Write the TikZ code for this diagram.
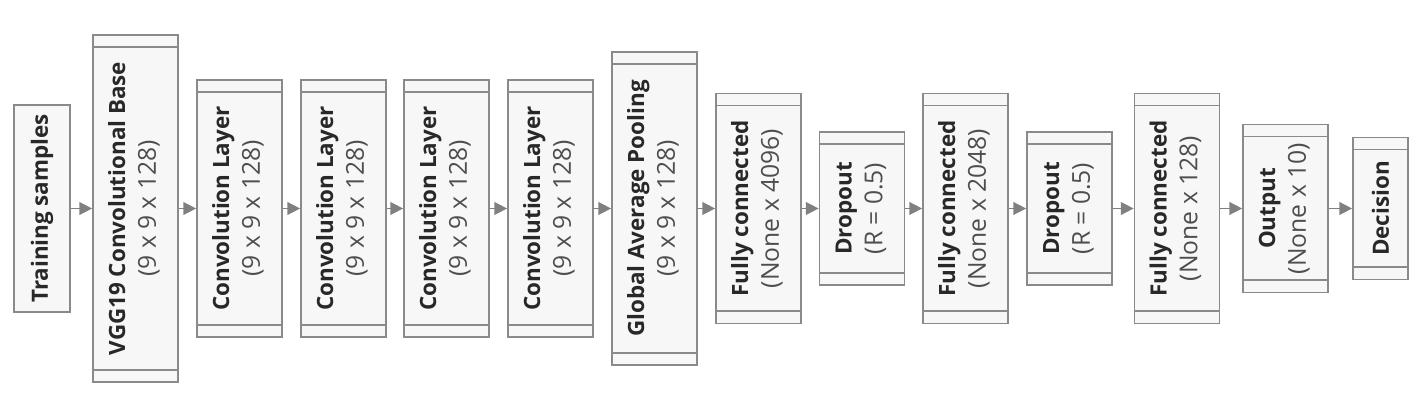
\documentclass[tikz,border=0pt]{standalone}
\usepackage{fontspec}
\setmainfont{Open Sans}
\usetikzlibrary{arrows.meta, calc}
\definecolor{boxline}{RGB}{138,138,138}
\definecolor{boxfill}{RGB}{247,247,247}
\definecolor{flowgray}{RGB}{128,128,128}
\definecolor{titlegray}{RGB}{40,40,40}
\definecolor{subgray}{RGB}{78,78,78}
\newcommand{\layertext}[2]{\rotatebox{90}{\begin{tabular}{@{}c@{}}\textbf{#1}\\[4pt]{\color{subgray}\fontsize{18.5}{19}\selectfont #2}\end{tabular}}}
\newcommand{\layerone}[1]{\rotatebox{90}{\textbf{#1}}}
\tikzset{
  layer/.style={draw=boxline, fill=boxfill, line width=1.3pt, inner sep=0pt,
    minimum width=63.75pt, text=titlegray, font=\fontsize{16.8}{19}\selectfont},
  band/.style={draw=boxline, line width=1.3pt},
  flow/.style={draw=flowgray, line width=1.1pt, -{Triangle[length=9.5pt,width=9.5pt]}}
}
\begin{document}
\begin{tikzpicture}[x=0.75pt,y=0.75pt]
        \useasboundingbox (0,0) rectangle (1426,410);

        % Layers
        \node [layer, minimum width=42pt, minimum height=155.25pt] (train) at (42,201.5) {\layerone{Training samples}};
        \node [layer, minimum height=260.25pt] (vgg) at (135.5,201.5) {\layertext{VGG19 Convolutional Base}{(9 x 9 x 128)}};
        \node [layer, minimum height=192.75pt] (conv1) at (239.5,201.5) {\layertext{Convolution Layer}{(9 x 9 x 128)}};
        \node [layer, minimum height=192.75pt] (conv2) at (343.5,201.5) {\layertext{Convolution Layer}{(9 x 9 x 128)}};
        \node [layer, minimum height=192.75pt] (conv3) at (446.5,201.5) {\layertext{Convolution Layer}{(9 x 9 x 128)}};
        \node [layer, minimum height=192.75pt] (conv4) at (550.5,201.5) {\layertext{Convolution Layer}{(9 x 9 x 128)}};
        \node [layer, minimum height=234.75pt] (gap) at (654.5,201.5) {\layertext{Global Average Pooling}{(9 x 9 x 128)}};
        \node [layer, minimum height=172.5pt] (fc1) at (758.5,201.5) {\layertext{Fully connected}{(None x 4096)}};
        \node [layer, minimum height=114.75pt] (drop1) at (862,201.5) {\layertext{Dropout}{(R = 0.5)}};
        \node [layer, minimum height=172.5pt] (fc2) at (965.5,201.5) {\layertext{Fully connected}{(None x 2048)}};
        \node [layer, minimum height=114.75pt] (drop2) at (1069.5,201.5) {\layertext{Dropout}{(R = 0.5)}};
        \node [layer, minimum height=172.5pt] (fc3) at (1177,201.5) {\layertext{Fully connected}{(None x 128)}};
        \node [layer, minimum height=126pt] (out) at (1285.5,201.5) {\layertext{Output}{(None x 10)}};
        \node [layer, minimum width=41.25pt, minimum height=106.5pt] (dec) at (1380.5,201.5) {\layerone{Decision}};

        % Bands at top and bottom
        \foreach \n in {vgg,conv1,conv2,conv3,conv4,gap,fc1,drop1,fc2,drop2,fc3,out,dec} {
          \draw [band] ($(\n.north west)+(0,-13)$) -- ($(\n.north east)+(0,-13)$);
          \draw [band] ($(\n.south west)+(0,13)$) -- ($(\n.south east)+(0,13)$);
        }

        % Arrows
        \foreach \a/\b in {train/vgg,vgg/conv1,conv1/conv2,conv2/conv3,conv3/conv4,conv4/gap,gap/fc1,fc1/drop1,drop1/fc2,fc2/drop2,drop2/fc3,fc3/out,out/dec}
          \draw [flow] (\a) -- (\b);

\end{tikzpicture}
\end{document}
